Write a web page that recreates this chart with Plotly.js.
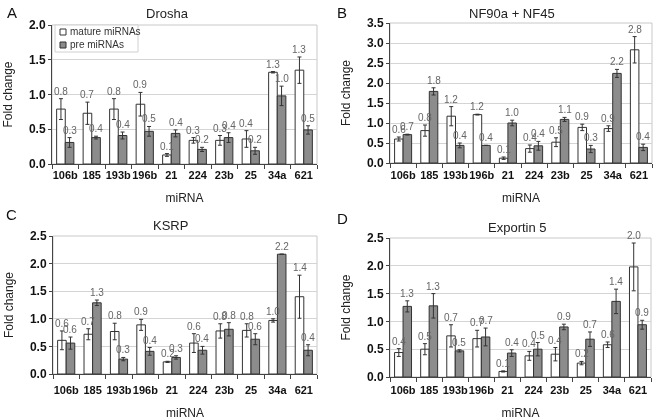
<!DOCTYPE html>
<html><head><meta charset="utf-8">
<script src="https://cdn.plot.ly/plotly-3.0.1.min.js"></script>
<style>body{margin:0;background:#fff}#chart{width:661px;height:420px;opacity:0.999;will-change:transform}</style>
</head><body><div id="chart"></div>
<script>
const categories = ["106b","185","193b","196b","21","224","23b","25","34a","621"];
const seriesNames = ["mature miRNAs","pre miRNAs"];

// A: Drosha
const droshaMature = [0.79,0.73,0.79,0.86,0.13,0.34,0.34,0.36,1.32,1.35];
const droshaMatureErr = [0.15,0.16,0.15,0.17,0.02,0.04,0.07,0.12,0.01,0.19];
const droshaMatureLbl = ["0.8","0.7","0.8","0.9","0.1","0.3","0.3","0.4","1.3","1.3"];
const droshaPre = [0.31,0.38,0.41,0.47,0.44,0.21,0.38,0.19,0.98,0.49];
const droshaPreErr = [0.07,0.02,0.05,0.07,0.05,0.03,0.07,0.05,0.14,0.06];
const droshaPreLbl = ["0.3","0.4","0.4","0.5","0.4","0.2","0.4","0.2","1.0","0.5"];

// B: NF90a + NF45
const nfMature = [0.60,0.81,1.17,1.21,0.12,0.36,0.52,0.89,0.86,2.83];
const nfMatureErr = [0.05,0.14,0.24,0.01,0.03,0.09,0.11,0.08,0.07,0.33];
const nfMatureLbl = ["0.6","0.8","1.2","1.2","0.1","0.4","0.5","0.9","0.9","2.8"];
const nfPre = [0.71,1.79,0.44,0.44,1.00,0.43,1.09,0.35,2.24,0.39];
const nfPreErr = [0.01,0.09,0.06,0.0,0.07,0.11,0.05,0.09,0.10,0.08];
const nfPreLbl = ["0.7","1.8","0.4","0.4","1.0","0.4","1.1","0.3","2.2","0.4"];

// C: KSRP
const ksrpMature = [0.61,0.72,0.77,0.89,0.22,0.56,0.78,0.79,0.97,1.40];
const ksrpMatureErr = [0.17,0.10,0.15,0.10,0.01,0.17,0.13,0.12,0.03,0.39];
const ksrpMatureLbl = ["0.6","0.7","0.8","0.9","0.2","0.6","0.8","0.8","1.0","1.4"];
const ksrpPre = [0.56,1.29,0.27,0.41,0.30,0.43,0.81,0.63,2.17,0.43];
const ksrpPreErr = [0.11,0.05,0.03,0.07,0.03,0.07,0.12,0.10,0.0,0.10];
const ksrpPreLbl = ["0.6","1.3","0.3","0.4","0.3","0.4","0.8","0.6","2.2","0.4"];

// D: Exportin 5
const expMature = [0.44,0.50,0.74,0.69,0.10,0.38,0.41,0.25,0.58,1.98];
const expMatureErr = [0.07,0.10,0.20,0.15,0.01,0.08,0.12,0.03,0.05,0.43];
const expMatureLbl = ["0.4","0.5","0.7","0.7","0.1","0.4","0.4","0.2","0.6","2.0"];
const expPre = [1.27,1.28,0.47,0.72,0.43,0.50,0.90,0.68,1.36,0.94];
const expPreErr = [0.10,0.22,0.02,0.16,0.06,0.12,0.05,0.13,0.22,0.08];
const expPreLbl = ["1.3","1.3","0.5","0.7","0.4","0.5","0.9","0.7","1.4","0.9"];

const panels = [
  {letter:"A", title:"Drosha", m:droshaMature, me:droshaMatureErr, ml:droshaMatureLbl, p:droshaPre, pe:droshaPreErr, pl:droshaPreLbl, ymax:2.0,
   dx:[52,317], dy:[25,164], tx:167, ty:13, lx:5, ly:12, so:1},
  {letter:"B", title:"NF90a + NF45", m:nfMature, me:nfMatureErr, ml:nfMatureLbl, p:nfPre, pe:nfPreErr, pl:nfPreLbl, ymax:3.5,
   dx:[390,652], dy:[23,163], tx:512, ty:14, lx:335, ly:12, so:2},
  {letter:"C", title:"KSRP", m:ksrpMature, me:ksrpMatureErr, ml:ksrpMatureLbl, p:ksrpPre, pe:ksrpPreErr, pl:ksrpPreLbl, ymax:2.5,
   dx:[53,317], dy:[236,374], tx:171, ty:225, lx:4, ly:215, so:6},
  {letter:"D", title:"Exportin 5", m:expMature, me:expMatureErr, ml:expMatureLbl, p:expPre, pe:expPreErr, pl:expPreLbl, ymax:2.5,
   dx:[390,651], dy:[238,377], tx:517, ty:227, lx:335, ly:218, so:3}
];

const W = 661, H = 420;
const FONT = "Liberation Sans, Arial, sans-serif";
const xs = categories.map((c,i)=>i);
const bargap = 0.35;
const half = (1-bargap)/4;
const traces = [];
const layout = {
  width:W, height:H, margin:{l:0,r:0,t:0,b:0},
  paper_bgcolor:"#fff", plot_bgcolor:"#fff",
  barmode:"group", bargap:bargap, bargroupgap:0,
  font:{family:FONT, color:"#222"},
  showlegend:false,
  annotations:[], shapes:[]
};

const MATURE_FILL = "#ffffff", PRE_FILL = "#8c8c8c", EDGE = "#333";

panels.forEach((pn,k)=>{
  const n = k===0 ? "" : String(k+1);
  const xa = "x"+n, ya = "y"+n;
  const errStyle = (arr)=>({type:"data", array:arr, visible:true, color:"#333", thickness:1, width:2});
  traces.push({type:"bar", x:xs, y:pn.m, xaxis:xa, yaxis:ya, name:seriesNames[0],
    marker:{color:MATURE_FILL, line:{color:EDGE, width:1}}, error_y:errStyle(pn.me), hoverinfo:"y"});
  traces.push({type:"bar", x:xs, y:pn.p, xaxis:xa, yaxis:ya, name:seriesNames[1],
    marker:{color:PRE_FILL, line:{color:EDGE, width:1}}, error_y:errStyle(pn.pe), hoverinfo:"y"});

  // value labels above error bars
  [[pn.m, pn.me, pn.ml, -half],[pn.p, pn.pe, pn.pl, half]].forEach(([vals, errs, lbls, off])=>{
    vals.forEach((v,i)=>{
      layout.annotations.push({xref:xa, yref:ya, x:i+off, y:v+errs[i], text:lbls[i], showarrow:false,
        xanchor:"center", yanchor:"bottom", yshift:0, font:{size:10, family:FONT, color:"#666666"}});
    });
  });

  const minorVals = categories.map((c,i)=>i-0.5).concat([categories.length-0.5]);
  layout["xaxis"+n] = {
    domain:[pn.dx[0]/W, pn.dx[1]/W], anchor:ya, range:[-0.5, categories.length-0.5],
    tickmode:"array", tickvals:xs, ticktext:categories, ticks:"", tickangle:0, ticklabelstandoff:pn.so,
    tickfont:{size:11, family:FONT, color:"#111", weight:"bold"},
    showline:true, linecolor:"#444", linewidth:1, showgrid:false, zeroline:false,
    minor:{tickvals:minorVals, ticks:"outside", ticklen:4, tickcolor:"#444", tickwidth:1, showgrid:false},
    title:{text:"miRNA", font:{size:12, family:FONT, color:"#222"}, standoff:13}
  };
  layout["yaxis"+n] = {
    domain:[1-pn.dy[1]/H, 1-pn.dy[0]/H], anchor:xa, range:[0, pn.ymax],
    dtick:0.5, tickformat:".1f", ticks:"outside", ticklen:3, tickcolor:"#444",
    tickfont:{size:12, family:FONT, color:"#111", weight:"bold"},
    showline:true, linecolor:"#444", linewidth:1, showgrid:true, gridcolor:"#d4d4d4", gridwidth:1, zeroline:false,
    title:{text:"Fold change", font:{size:12, family:FONT, color:"#222"}, standoff:13}
  };
  layout.shapes.push({type:"rect", xref:"paper", yref:"paper", layer:"below",
    x0:pn.dx[0]/W, x1:pn.dx[1]/W, y0:1-pn.dy[1]/H, y1:1-pn.dy[0]/H, line:{color:"#c8c8c8", width:1}});
  layout.annotations.push({xref:"paper", yref:"paper", x:pn.tx/W, y:1-pn.ty/H, text:pn.title, showarrow:false,
    xanchor:"center", yanchor:"middle", font:{size:13, family:FONT, color:"#222"}});
  layout.annotations.push({xref:"paper", yref:"paper", x:pn.lx/W, y:1-pn.ly/H, text:pn.letter, showarrow:false,
    xanchor:"left", yanchor:"middle", font:{size:15, family:FONT, color:"#111"}});
});

// legend for panel A (drawn manually in the Excel style)
const legendItems = [[seriesNames[0], MATURE_FILL, 32],[seriesNames[1], PRE_FILL, 45]];
layout.shapes.push({type:"rect", xref:"paper", yref:"paper", layer:"above",
  x0:55/W, x1:138/W, y0:1-52/H, y1:1-25/H, fillcolor:"#fff", line:{color:"#d0d0d0", width:1}});
legendItems.forEach(([name, fill, yy])=>{
  layout.shapes.push({type:"rect", xref:"paper", yref:"paper", layer:"above",
    x0:60/W, x1:66/W, y0:1-(yy+3)/H, y1:1-(yy-3)/H, fillcolor:fill, line:{color:EDGE, width:1}});
  layout.annotations.push({xref:"paper", yref:"paper", x:68/W, y:1-yy/H, text:name, showarrow:false,
    xanchor:"left", yanchor:"middle", font:{size:10, family:FONT, color:"#333"}});
});

Plotly.newPlot("chart", traces, layout, {staticPlot:true, displayModeBar:false});
</script>
</body></html>
